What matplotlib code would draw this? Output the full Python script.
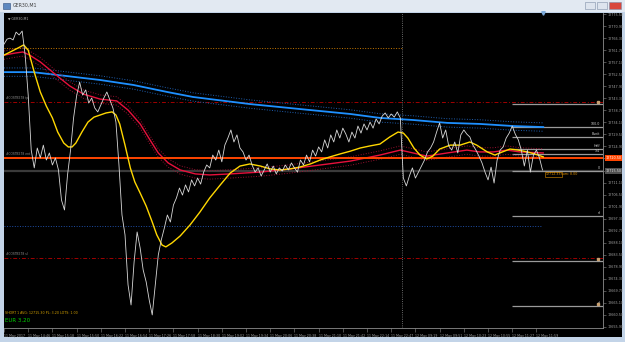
import numpy as np
import matplotlib.pyplot as plt
from matplotlib.patches import Rectangle

# GER30 M1 closes, one value every 4 bars
close_step = 4
close = [
    12764.0, 12765.9, 12766.3, 12765.6, 12768.6, 12767.5, 12769.0, 12759.8, 12744.5, 12723.5,
    12716.7, 12724.3, 12720.5, 12725.4, 12719.7, 12722.4, 12717.8, 12720.5, 12715.9, 12704.4,
    12700.6, 12714.0, 12723.5, 12735.8, 12744.2, 12749.5, 12744.5, 12746.5, 12741.5, 12743.4,
    12739.6, 12738.1, 12740.7, 12743.4, 12745.7, 12742.6, 12739.6, 12734.2, 12717.8, 12698.7,
    12691.1, 12672.0, 12664.3, 12680.7, 12692.2, 12686.1, 12677.7, 12673.1, 12666.2, 12660.5,
    12672.0, 12683.4, 12689.2, 12693.7, 12698.7, 12696.0, 12702.5, 12705.2, 12709.0, 12706.3,
    12710.2, 12707.5, 12712.1, 12709.8, 12712.8, 12710.5, 12715.1, 12717.8, 12716.7, 12721.6,
    12719.7, 12723.5, 12719.0, 12725.4, 12728.1, 12731.2, 12726.6, 12729.3, 12724.3, 12722.8,
    12719.7, 12721.6, 12717.8, 12715.1, 12716.7, 12713.6, 12715.9, 12718.2, 12715.1, 12717.4,
    12714.4, 12716.7, 12715.5, 12717.8, 12715.9, 12718.6, 12716.7, 12715.1, 12719.7, 12717.8,
    12721.6, 12719.0, 12723.5, 12721.2, 12724.7, 12722.8, 12727.4, 12724.3, 12729.3, 12726.6,
    12731.2, 12728.1, 12731.9, 12729.6, 12726.6, 12730.4, 12728.1, 12732.7, 12730.0, 12733.5,
    12731.2, 12734.2, 12731.9, 12735.4, 12733.5, 12736.5, 12737.7, 12735.8, 12737.3, 12736.1,
    12738.1, 12735.8, 12712.8, 12709.8, 12713.6, 12716.7, 12712.8, 12715.1, 12717.4, 12719.7,
    12722.8, 12724.3, 12726.6, 12730.4, 12733.9, 12728.1, 12731.2, 12725.1, 12723.5, 12726.6,
    12722.4, 12729.3, 12731.2, 12729.6, 12728.5, 12725.4, 12723.5, 12721.2, 12718.6, 12715.1,
    12712.1, 12717.0, 12710.9, 12719.7, 12723.5, 12724.7, 12728.1, 12730.0, 12732.7, 12729.6,
    12727.4, 12723.5, 12717.4, 12723.5, 12715.1, 12721.6, 12723.5, 12720.5, 12715.9,
]

# fast MA (yellow)
yellow_bar = [0, 11, 21, 26, 32, 40, 48, 56, 64, 71, 79, 85, 90, 95, 103, 111, 119, 127, 135, 143,
              148, 153, 160, 167, 173, 180, 188, 196, 202, 209, 214, 222, 233, 246, 259, 272, 286,
              299, 312, 325, 339, 352, 365, 378, 391, 405, 418, 431, 444, 458, 471, 484, 497, 510,
              521, 528, 534, 542, 550, 559, 567, 576, 590, 603, 616, 625, 639, 649, 659, 669, 680,
              692, 702, 713]
yellow_ma = [12759.8, 12761.4, 12762.9, 12763.7, 12761.7, 12753.3, 12745.7, 12740.3, 12735.8, 12730.4,
             12726.2, 12724.7, 12724.7, 12726.2, 12730.4, 12734.2, 12736.1, 12736.9, 12737.7, 12738.1,
             12736.9, 12733.5, 12725.4, 12716.7, 12711.3, 12707.1, 12702.1, 12696.0, 12691.1, 12687.2,
             12686.5, 12688.0, 12690.7, 12694.9, 12699.8, 12705.2, 12710.2, 12714.7, 12717.4, 12718.2,
             12717.4, 12716.3, 12715.9, 12716.3, 12717.0, 12718.2, 12719.7, 12720.9, 12722.0, 12723.1,
             12724.3, 12725.1, 12725.8, 12728.5, 12730.4, 12730.0, 12728.1, 12724.3, 12721.6, 12720.1,
             12721.2, 12723.9, 12725.4, 12725.4, 12726.6, 12725.4, 12722.8, 12721.6, 12722.8, 12723.9,
             12723.5, 12722.8, 12722.0, 12720.9]

# medium MA (red) with envelope
red_bar = [0, 15, 25, 34, 48, 61, 74, 87, 105, 127, 149, 164, 180, 193, 204, 217, 233, 253, 272, 299,
           339, 378, 418, 458, 497, 524, 541, 559, 586, 612, 629, 647, 665, 682, 713]
red_ma = [12759.8, 12760.6, 12761.0, 12759.8, 12757.2, 12754.1, 12751.0, 12748.0, 12744.9, 12743.0,
          12742.3, 12738.8, 12733.5, 12727.4, 12722.4, 12718.6, 12715.9, 12714.4, 12714.0, 12714.4,
          12715.1, 12716.3, 12717.8, 12719.3, 12721.6, 12723.5, 12722.4, 12721.2, 12722.4, 12723.5,
          12722.8, 12722.8, 12723.5, 12722.8, 12722.4]

# slow MA (blue) with envelope
blue_bar = [0, 38, 83, 127, 171, 216, 250, 325, 391, 458, 497, 541, 586, 629, 673, 713]
blue_ma = [12753.3, 12753.3, 12751.8, 12750.3, 12748.4, 12745.7, 12743.8, 12741.1, 12739.2, 12737.3,
           12735.8, 12735.0, 12733.9, 12733.5, 12732.7, 12732.3]
band = 1.6

# trade / level lines
entry_price = 12720.5
bid_price = 12715.5
tp_price = 12741.9
sl_price = 12682.3
orange_level = 12762.5
blue_level = 12694.3
session_break = 525.6
right_start = 672
right_levels = [12741.1, 12732.3, 12728.5, 12723.9, 12722.0, 12715.5, 12698.3, 12681.1, 12663.9]
right_names = ["", "100.0", "Bunit", "Half", "1/4", "0", "sl", "", "sl"]

y_ticks = [12655.9 + 4.6 * k for k in range(27)]
x_ticks = list(range(0, 705, 32))
x_labels = ["11 May 2017", "11 May 14:46", "11 May 15:18", "11 May 15:50", "11 May 16:22",
            "11 May 16:54", "11 May 17:26", "11 May 17:58", "11 May 18:30", "11 May 19:02",
            "11 May 19:34", "11 May 20:06", "11 May 20:38", "11 May 21:10", "11 May 21:42",
            "11 May 22:14", "11 May 22:47", "12 May 09:19", "12 May 09:51", "12 May 10:23",
            "12 May 10:55", "12 May 11:27", "12 May 11:59"]

W, H = 625, 342
fig = plt.figure(figsize=(6.25, 3.42), dpi=100)
fig.patch.set_facecolor('#c3d4e8')


def fx(x):
    return x / W


def fy(y):
    return 1 - y / H


# window chrome
fig.add_artist(Rectangle((0, fy(12)), 1, 12 / H, transform=fig.transFigure,
                         facecolor='#e2e9f2', edgecolor='none', zorder=-2))
fig.add_artist(Rectangle((fx(4), fy(337)), 618 / W, 324 / H, transform=fig.transFigure,
                         facecolor='black', edgecolor='none', zorder=-1))
fig.add_artist(Rectangle((fx(3), fy(9)), 7 / W, 6 / H, transform=fig.transFigure,
                         facecolor='#5d88c0', edgecolor='#2f4f7f', lw=0.4))
for bx, bw, col in [(585, 10, '#dde4ee'), (597, 10, '#dde4ee'), (609, 12, '#d8473d')]:
    fig.add_artist(Rectangle((fx(bx), fy(9)), bw / W, 7 / H, transform=fig.transFigure,
                             facecolor=col, edgecolor='#7f8ea8', lw=0.4))
fig.text(fx(13), fy(5.5), 'GER30,M1', fontsize=3.4, color='#404040', va='center')

ax = fig.add_axes([fx(4), fy(328), 599 / W, 315 / H])
ax.set_facecolor('black')

bars = np.arange(len(close)) * close_step

# horizontal levels
ax.hlines(orange_level, 0, session_break, color='#c87800', ls=':', lw=0.7)
ax.hlines(blue_level, 0, 710, color='#1f4fa8', ls=':', lw=0.7)
ax.axhline(tp_price, color='#a00000', ls=(0, (4, 2, 1, 2)), lw=0.7)
ax.axhline(sl_price, color='#a00000', ls=(0, (4, 2, 1, 2)), lw=0.7)
ax.axhline(bid_price, color='#3a3a3a', lw=1.6)
ax.axvline(session_break, color='#8a8a8a', ls=':', lw=0.6)
ax.hlines(right_levels, right_start, 792, color='#9a9a9a', lw=0.9)

# moving averages
red = np.array(red_ma)
blue = np.array(blue_ma)
ax.plot(blue_bar, blue + band, color='#1f5fb0', ls=':', lw=0.7)
ax.plot(blue_bar, blue - band, color='#1f5fb0', ls=':', lw=0.7)
ax.plot(blue_bar, blue, color='#1e90ff', lw=1.3)
ax.plot(red_bar, red + band, color='#9b1030', ls=':', lw=0.7)
ax.plot(red_bar, red - band, color='#9b1030', ls=':', lw=0.7)
ax.plot(red_bar, red, color='#e8103c', lw=1.0)
ax.axhline(entry_price, color='#ff4500', lw=1.4)
ax.plot(yellow_bar, yellow_ma, color='#ffd700', lw=1.0)

# price
ax.plot(bars, close, color='#d8d8d8', lw=0.6, zorder=5)

for p in [right_levels[0], right_levels[7], right_levels[8]]:
    ax.plot(786, p + 0.6, marker='s', ms=1.6, color='#c8a070', zorder=6)
for p, name in zip(right_levels, right_names):
    if name:
        ax.text(788, p + 0.3, name, ha='right', va='bottom', fontsize=2.3, color='#d0d0d0')

ax.text(716, bid_price - 0.4, '12712.33', fontsize=2.3, color='#e09000', va='top',
        bbox=dict(facecolor='none', edgecolor='#e09000', lw=0.4, pad=0.4))
ax.text(737, bid_price - 0.4, 'sum: 8.00', fontsize=2.3, color='#e09000', va='top')

for p, tag in [(tp_price, 'tp'), (entry_price, 'ent'), (sl_price, 'sl')]:
    ax.text(3, p + 0.6, '#COSTB578 ' + tag, fontsize=2.2, color='#8c8c8c', va='bottom')

ax.text(0.006, 0.988, '\u25bc GER30,M1', transform=ax.transAxes, fontsize=2.3,
        color='#b0b0b0', va='top')

ax.set_xlim(0, 792)
ax.set_ylim(12655.5, 12775.9)
ax.plot(713, 12775.9, marker='v', ms=2.5, color='#7aa8d8', clip_on=False, zorder=7)

# price scale; labels hidden under the current-price tags
ax.yaxis.tick_right()
ax.set_yticks(y_ticks)
ax.set_yticklabels(['' if min(abs(v - entry_price), abs(v - bid_price)) < 2.3 else f'{v:.2f}'
                    for v in y_ticks])
ax.tick_params(axis='y', colors='#8c8c8c', labelcolor='#a0a0a0', labelsize=2.4,
               length=2, width=0.4, pad=1.5)
ax.set_xticks(x_ticks)
ax.set_xticklabels(x_labels)
for t in ax.get_xticklabels():
    t.set_horizontalalignment('left')
ax.tick_params(axis='x', colors='#8c8c8c', labelcolor='#a0a0a0', labelsize=2.3,
               length=3, width=0.4, pad=1)

# current price tags on the price scale
tr = ax.get_yaxis_transform()
ax.text(1.004, entry_price, f'{entry_price:.2f}', transform=tr, fontsize=2.4, color='white',
        va='center', bbox=dict(facecolor='#ff4500', edgecolor='none', pad=0.6))
ax.text(1.004, bid_price, f'{bid_price:.2f}', transform=tr, fontsize=2.4, color='#e0e0e0',
        va='center', bbox=dict(facecolor='#505050', edgecolor='none', pad=0.6))

for s in ['top', 'left']:
    ax.spines[s].set_visible(False)
for s in ['right', 'bottom']:
    ax.spines[s].set_color('#8c8c8c')
    ax.spines[s].set_linewidth(0.6)

fig.text(fx(5), fy(313), 'SHORT 1 AVG: 12715.30 PL: 3.20 LOTS: 1.00', fontsize=2.3,
         color='#d2a000', va='center')
fig.text(fx(5), fy(320.5), 'EUR 3.20', fontsize=4, color='#00d000', va='center')

fig.savefig('out.png', dpi=100, facecolor=fig.get_facecolor())
